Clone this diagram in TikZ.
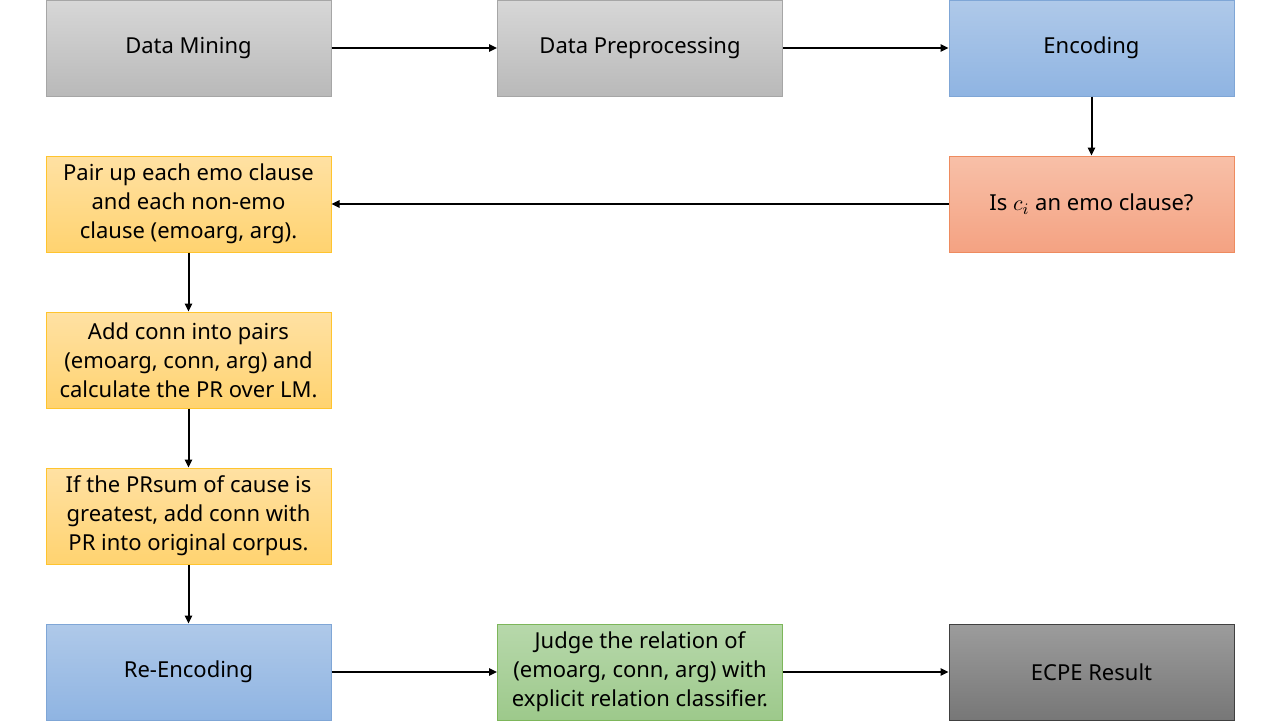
\documentclass[tikz,border=0pt]{standalone}
\usepackage{fontspec}
\setmainfont{Noto Sans}
\usetikzlibrary{arrows.meta}
\definecolor{grayTop}{HTML}{D7D7D7}
\definecolor{grayBot}{HTML}{B9B9B9}
\definecolor{grayLine}{HTML}{A6A6A6}
\definecolor{blueTop}{HTML}{AFC9E9}
\definecolor{blueBot}{HTML}{8FB4E2}
\definecolor{blueLine}{HTML}{7FA6D6}
\definecolor{redTop}{HTML}{F8C0A8}
\definecolor{redBot}{HTML}{F4A282}
\definecolor{redLine}{HTML}{EE8B5F}
\definecolor{yelTop}{HTML}{FFE1A3}
\definecolor{yelBot}{HTML}{FFD370}
\definecolor{yelLine}{HTML}{FFC42E}
\definecolor{grnTop}{HTML}{B7D8AB}
\definecolor{grnBot}{HTML}{9DC98B}
\definecolor{grnLine}{HTML}{7DB65A}
\definecolor{darkTop}{HTML}{9C9C9C}
\definecolor{darkBot}{HTML}{777777}
\definecolor{darkLine}{HTML}{404040}
\begin{document}
\begin{tikzpicture}[
  x=0.5pt,y=-0.5pt,
  box/.style={draw,line width=0.5pt,minimum width=142.5pt,minimum height=48pt,
    inner sep=0pt,align=center,font=\fontsize{11}{14.6}\selectfont},
  graybox/.style={box,draw=grayLine,top color=grayTop,bottom color=grayBot},
  bluebox/.style={box,draw=blueLine,top color=blueTop,bottom color=blueBot},
  redbox/.style={box,draw=redLine,top color=redTop,bottom color=redBot},
  yelbox/.style={box,draw=yelLine,top color=yelTop,bottom color=yelBot},
  grnbox/.style={box,draw=grnLine,top color=grnTop,bottom color=grnBot},
  darkbox/.style={box,draw=darkLine,top color=darkTop,bottom color=darkBot},
  flow/.style={-{Triangle[length=4pt,width=3.6pt]},line width=1pt}
]
  \useasboundingbox (0,0) rectangle (1280,720);
  \node[graybox] (mining) at (188.5,48) {Data Mining};
  \node[graybox] (prep) at (640,48) {Data Preprocessing};
  \node[bluebox] (enc) at (1091.5,48) {Encoding};
  \node[redbox] (isemo) at (1091.5,204) {Is $c_i$ an emo clause?};
  \node[yelbox] (pair) at (188.5,204) {Pair up each emo clause\\and each non-emo\\clause (emoarg, arg).};
  \node[yelbox] (addconn) at (188.5,360) {Add conn into pairs\\(emoarg, conn, arg) and\\calculate the PR over LM.};
  \node[yelbox] (prsum) at (188.5,516) {If the PRsum of cause is\\greatest, add conn with\\PR into original corpus.};
  \node[bluebox] (reenc) at (188.5,672) {Re-Encoding};
  \node[grnbox] (judge) at (640,672) {Judge the relation of\\(emoarg, conn, arg) with\\explicit relation classifier.};
  \node[darkbox] (result) at (1091.5,672) {ECPE Result};
  \draw[flow] (mining) -- (prep);
  \draw[flow] (prep) -- (enc);
  \draw[flow] (enc) -- (isemo);
  \draw[flow] (isemo) -- (pair);
  \draw[flow] (pair) -- (addconn);
  \draw[flow] (addconn) -- (prsum);
  \draw[flow] (prsum) -- (reenc);
  \draw[flow] (reenc) -- (judge);
  \draw[flow] (judge) -- (result);
\end{tikzpicture}
\end{document}
